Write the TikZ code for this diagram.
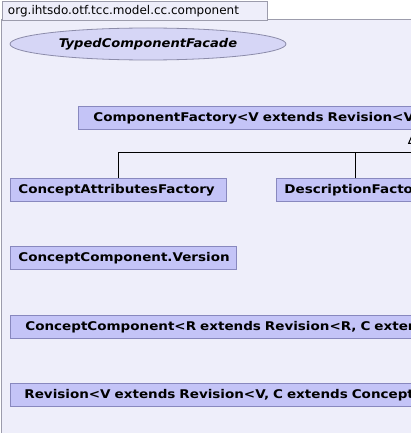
\documentclass[tikz,border=0pt]{standalone}
\usepackage{fontspec}
\setmainfont{DejaVu Sans}
\newfontfamily\classfont{DejaVu Sans}[FakeStretch=1.125]
\newfontfamily\ellfont{DejaVu Sans}[FakeStretch=1.09]
\usetikzlibrary{shapes.geometric,arrows.meta}
\definecolor{framefill}{RGB}{238,238,250}
\definecolor{frameline}{RGB}{156,156,172}
\definecolor{ellfill}{RGB}{214,214,246}
\definecolor{ellline}{RGB}{140,140,170}
\definecolor{boxfill}{RGB}{196,196,247}
\definecolor{boxline}{RGB}{136,136,190}
\tikzset{
  classbox/.style={draw=boxline, fill=boxfill, line width=0.8pt, anchor=north west,
    font=\classfont\fontsize{12}{14}\selectfont\bfseries, align=left, minimum height=23pt,
    inner ysep=0pt},
  conn/.style={draw=black, line width=1pt},
  inherit/.style={conn, -{Triangle[open, length=14pt, width=12pt, fill=framefill]}},
}
\begin{document}
\begin{tikzpicture}[x=1pt,y=-1pt]
\clip (0,0) rectangle (411,433);
\fill[white] (0,0) rectangle (411,433);
% package frame
\draw[frameline, fill=framefill, line width=1pt] (1.5,19.5) rectangle (440,460);
\node[draw=frameline, fill=framefill, line width=1pt, anchor=north west, minimum width=265pt,
  minimum height=18.5pt, inner xsep=6pt, inner ysep=0pt, text width=253pt, align=left,
  font=\fontsize{12}{14}\selectfont] (tab) at (1.5,1.5) {org.ihtsdo.otf.tcc.model.cc.component};
% use case style ellipse
\node[ellipse, draw=ellline, fill=ellfill, line width=0.8pt, minimum width=276pt, minimum height=32pt,
  font=\ellfont\fontsize{12}{14}\selectfont\bfseries\itshape] (facade) at (148,44) {TypedComponentFacade};
% classes
\node[classbox, text width=500pt, inner xsep=15pt] (factory) at (78,106)
  {ComponentFactory<V extends Revision<V};
\node[classbox, text width=200pt, inner xsep=8pt] (attr) at (10,178) {ConceptAttributesFactory};
\node[classbox, text width=300pt, inner xsep=8pt] (desc) at (276,178) {DescriptionFactor};
\node[classbox, text width=210pt, inner xsep=8pt] (version) at (10,246) {ConceptComponent.Version};
\node[classbox, text width=500pt, inner xsep=15pt] (cc) at (10,315)
  {ConceptComponent<R extends Revision<R, C exten};
\node[classbox, text width=500pt, inner xsep=14pt] (rev) at (10,383)
  {Revision<V extends Revision<V, C extends Concept};
% generalization connectors
\coordinate (junc) at (414,152);
\draw[conn] (118,152) -- (junc);
\draw[conn] (attr.north -| 118,0) -- (118,152);
\draw[conn] (desc.north -| 355,0) -- (355,152);
\draw[inherit] (junc) -- (factory.south -| junc);
\end{tikzpicture}
\end{document}
